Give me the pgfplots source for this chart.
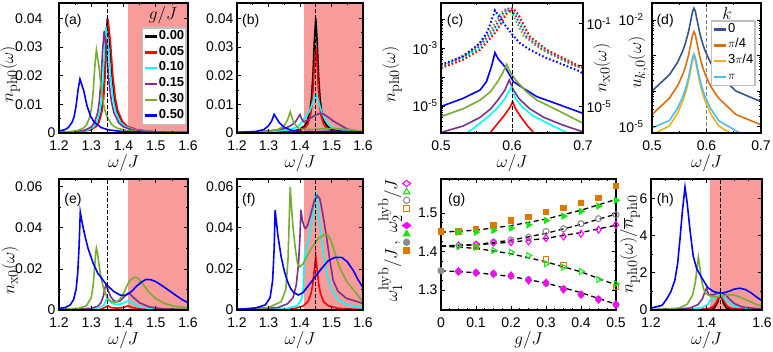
\documentclass[border=0pt]{standalone}
\usepackage[no-math]{fontspec}
\setmainfont{Liberation Sans}
\usepackage{pgfplots}
\pgfplotsset{compat=1.18}
\DeclareMathSizes{18}{18}{14}{10}

\definecolor{cpurple}{HTML}{7E2F8E}
\definecolor{cgreen}{HTML}{77AC30}
\definecolor{ccyan}{RGB}{0,255,255}
\definecolor{cblue}{RGB}{0,0,255}
\definecolor{cred}{RGB}{255,0,0}
\definecolor{shade}{RGB}{248,155,155}
\definecolor{kzero}{HTML}{34568B}
\definecolor{kpi4}{HTML}{DE6E0C}
\definecolor{kthree}{HTML}{EDB120}
\definecolor{kpi}{HTML}{4DBEEE}
\definecolor{gmag}{RGB}{255,0,255}
\definecolor{ggreen}{RGB}{20,230,20}
\definecolor{ggray}{RGB}{140,140,140}
\definecolor{gorange}{RGB}{222,120,0}

\pgfplotsset{
  panel/.style={
    scale only axis, anchor=south west, axis on top,
    axis line style={line width=1.1pt},
    tick style={black, line width=0.6pt},
    major tick length=4pt, minor tick length=2.2pt,
    tick label style={font=\fontsize{14}{14}\selectfont, inner ysep=1pt},
    xticklabel style={yshift=-6.5pt},
    label style={font=\fontsize{18}{18}\selectfont},
    /pgf/number format/assume math mode=true,
    scaled ticks=false,
    every axis plot/.append style={line width=1.6pt},
    xlabel={$\omega/J$},
    xlabel style={at={(axis description cs:0.5,-0.23)}, anchor=center},
  },
}
\tikzset{
  vline/.style={black, line width=0.9pt, dash pattern=on 3.5pt off 2.5pt},
  shadeplot/.style={fill=shade, draw=none},
  plab/.style={anchor=west, font=\fontsize{14}{14}\selectfont, inner sep=0pt},
  gdash/.style={black, line width=1.3pt, dash pattern=on 5pt off 3.5pt},
}

\begin{document}
\begin{tikzpicture}
\useasboundingbox (0,0) rectangle (773pt,352pt);

% ---------------- (a)
\begin{axis}[panel, at={(59pt,219pt)}, width=129pt, height=130pt,
  xmin=1.2, xmax=1.6, ymin=0, ymax=0.0453,
  xtick={1.2,1.3,1.4,1.5,1.6}, xticklabels={1.2,1.3,1.4,1.5,1.6},
  ytick={0,0.01,0.02,0.03,0.04},
  yticklabels={0,{0.01\hspace*{13pt}},{0.02\hspace*{13pt}},{0.03\hspace*{13pt}},{0.04\hspace*{13pt}}},
  minor x tick num=1, minor y tick num=1,
  ylabel={$n_{\mathrm{ph0}}(\omega)$},
  ylabel style={at={(axis description cs:-0.38,0.45)}, anchor=center},
  legend style={at={(axis description cs:0.992,0.815)}, anchor=north east,
    draw=gray!50, line width=1.5pt, fill=white,
    font=\fontsize{13}{13}\selectfont\bfseries, inner sep=1pt, row sep=0pt,
    nodes={inner sep=1pt, text height=9.5pt, text depth=4.3pt}},
  legend cell align=left,
  legend image code/.code={\draw[#1, line width=2.4pt] (0pt,0pt) -- (12pt,0pt);},
]
\addplot[shadeplot, forget plot] coordinates {(1.4142,1) (1.6,1)} \closedcycle;
\addplot[black] coordinates {(1.17,0.0001) (1.26,0.0004) (1.296,0.0011) (1.314,0.0024) (1.323,0.004) (1.332,0.008) (1.3365,0.0123) (1.341,0.02) (1.3455,0.032) (1.35,0.04) (1.357,0.032) (1.364,0.02) (1.371,0.0123) (1.378,0.008) (1.392,0.004) (1.406,0.0024) (1.434,0.0011) (1.49,0.0004) (1.63,0.0001)};
\addlegendentry{0.00}
\addplot[cred] coordinates {(1.172,0.0001) (1.262,0.0004) (1.298,0.0011) (1.316,0.0023) (1.325,0.004) (1.334,0.0079) (1.3385,0.0122) (1.343,0.0198) (1.3475,0.0316) (1.352,0.0395) (1.3595,0.0316) (1.367,0.0198) (1.3745,0.0122) (1.382,0.0079) (1.397,0.004) (1.412,0.0023) (1.442,0.0011) (1.502,0.0004) (1.652,0.0001)};
\addlegendentry{0.05}
\addplot[ccyan] coordinates {(1.16,0.0001) (1.251,0.00037) (1.289,0.001) (1.308,0.0022) (1.3175,0.0037) (1.327,0.0074) (1.3318,0.0114) (1.3365,0.0185) (1.3413,0.0296) (1.346,0.037) (1.3535,0.0296) (1.361,0.0185) (1.3685,0.0114) (1.376,0.0074) (1.391,0.0037) (1.406,0.0022) (1.436,0.001) (1.496,0.00037) (1.65,0.0001)};
\addlegendentry{0.10}
\addplot[cpurple] coordinates {(1.15,0.0001) (1.24,0.00035) (1.28,0.00096) (1.3,0.0021) (1.31,0.0036) (1.32,0.0071) (1.325,0.011) (1.33,0.0178) (1.335,0.0285) (1.34,0.0356) (1.3475,0.0285) (1.355,0.0178) (1.3625,0.011) (1.37,0.0071) (1.385,0.0036) (1.4,0.0021) (1.43,0.00096) (1.49,0.00035) (1.64,0.0001)};
\addlegendentry{0.15}
\addplot[cgreen] coordinates {(1.2,0.00025) (1.216,0.00029) (1.256,0.00078) (1.276,0.0017) (1.286,0.0029) (1.296,0.0058) (1.301,0.0089) (1.306,0.0145) (1.311,0.0231) (1.316,0.0289) (1.324,0.0231) (1.332,0.0145) (1.34,0.0089) (1.348,0.0058) (1.364,0.0029) (1.38,0.0017) (1.412,0.00078) (1.476,0.00029) (1.6,0.00008)};
\addlegendentry{0.30}
\addplot[cblue] coordinates {(1.2,0.0007) (1.217,0.0011) (1.229,0.0019) (1.241,0.0038) (1.247,0.0058) (1.253,0.0094) (1.259,0.015) (1.265,0.0188) (1.276,0.015) (1.287,0.0094) (1.298,0.0058) (1.309,0.0038) (1.331,0.0019) (1.353,0.0011) (1.397,0.00051) (1.485,0.00019) (1.6,0.0001)};
\addlegendentry{0.50}
\addplot[vline, forget plot] coordinates {(1.35,0) (1.35,1)};
\node[plab] at (axis description cs:0.04,0.86) {(a)};
\node[font=\fontsize{17}{17}\selectfont] at (axis description cs:0.806,0.905) {$g/J$};
\end{axis}

% ---------------- (b)
\begin{axis}[panel, at={(237pt,219pt)}, width=126pt, height=130pt,
  xmin=1.2, xmax=1.6, ymin=0, ymax=0.0453,
  xtick={1.2,1.3,1.4,1.5,1.6}, xticklabels={1.2,1.3,1.4,1.5,1.6},
  ytick={0,0.01,0.02,0.03,0.04}, yticklabels={0,0.01,0.02,0.03,0.04},
  minor x tick num=1, minor y tick num=1,
]
\addplot[shadeplot, forget plot] coordinates {(1.4142,1) (1.6,1)} \closedcycle;
\addplot[black] coordinates {(1.2,0.0001) (1.36,0.0004) (1.396,0.0011) (1.414,0.0024) (1.423,0.004) (1.432,0.008) (1.4365,0.0123) (1.441,0.02) (1.4455,0.032) (1.45,0.04) (1.4545,0.032) (1.459,0.02) (1.4635,0.0123) (1.468,0.008) (1.477,0.004) (1.486,0.0024) (1.504,0.0011) (1.54,0.0004) (1.6,0.0001)};
\addplot[cred] coordinates {(1.2,0.0001) (1.365,0.0003) (1.399,0.0008) (1.416,0.0018) (1.4245,0.003) (1.433,0.006) (1.4373,0.0092) (1.4415,0.015) (1.4458,0.024) (1.45,0.03) (1.4543,0.024) (1.4585,0.015) (1.4628,0.0092) (1.467,0.006) (1.4755,0.003) (1.484,0.0018) (1.501,0.0008) (1.535,0.0003) (1.6,0.0001)};
\addplot[ccyan] coordinates {(1.2,0.0002) (1.3,0.0005) (1.36,0.001) (1.39,0.002) (1.4,0.003) (1.41,0.0045) (1.415,0.0055) (1.42,0.0058) (1.43,0.0075) (1.44,0.0105) (1.447,0.0135) (1.45,0.0136) (1.455,0.0125) (1.46,0.0105) (1.47,0.007) (1.48,0.0045) (1.5,0.002) (1.55,0.0007) (1.6,0.0003)};
\addplot[cpurple] coordinates {(1.2,0.0002) (1.3,0.0007) (1.35,0.0015) (1.37,0.0025) (1.385,0.0038) (1.395,0.0055) (1.4,0.0064) (1.405,0.005) (1.412,0.0039) (1.42,0.0042) (1.435,0.0053) (1.45,0.0063) (1.465,0.0069) (1.475,0.0066) (1.49,0.0055) (1.505,0.0042) (1.527,0.0028) (1.55,0.0014) (1.566,0.0009) (1.6,0.0004)};
\addplot[cgreen] coordinates {(1.2,0.0002) (1.3,0.0006) (1.33,0.0012) (1.35,0.0025) (1.36,0.0045) (1.365,0.006) (1.369,0.0074) (1.375,0.0052) (1.38,0.0038) (1.39,0.0022) (1.4,0.0014) (1.42,0.0012) (1.45,0.0013) (1.5,0.0016) (1.55,0.0012) (1.6,0.0006)};
\addplot[cblue] coordinates {(1.2,0.0002) (1.26,0.0005) (1.285,0.0012) (1.3,0.0025) (1.31,0.0042) (1.318,0.0065) (1.325,0.0052) (1.335,0.0035) (1.35,0.002) (1.37,0.001) (1.4,0.0005) (1.45,0.0004) (1.5,0.0006) (1.55,0.0005) (1.6,0.0003)};
\addplot[vline, forget plot] coordinates {(1.45,0) (1.45,1)};
\node[plab] at (axis description cs:0.04,0.86) {(b)};
\end{axis}

% ---------------- (c) left axis
\begin{axis}[panel, at={(441pt,219pt)}, width=142pt, height=130pt,
  xmin=0.5, xmax=0.7, ymode=log, ymin=1.15e-6, ymax=0.037,
  xtick={0.5,0.6,0.7}, xticklabels={0.5,0.6,0.7}, minor x tick num=1,
  ytick={1e-6,1e-5,1e-4,1e-3,1e-2},
  yticklabels={,10\textsuperscript{-5},,10\textsuperscript{-3},},
  ytick pos=left,
  ylabel={$n_{\mathrm{ph0}}(\omega)$},
  ylabel style={at={(axis description cs:-0.345,0.45)}, anchor=center},
]
\addplot[cblue] coordinates {(0.5,9.55e-6) (0.531,1.82e-5) (0.555,3.55e-5) (0.564,6.92e-5) (0.571,2.29e-4) (0.574,4.47e-4) (0.576,7.08e-4) (0.58,4.47e-4) (0.59,2.29e-4) (0.602,6.92e-5) (0.62,3.55e-5) (0.635,2.09e-5) (0.66,1.26e-5) (0.7,5.5e-6)};
\addplot[cgreen] coordinates {(0.5,4.27e-6) (0.531,7.94e-6) (0.555,1.58e-5) (0.57,3.16e-5) (0.58,7.08e-5) (0.587,1.41e-4) (0.5925,2.75e-4) (0.598,1.41e-4) (0.605,7.94e-5) (0.62,3.16e-5) (0.635,1.58e-5) (0.66,7.94e-6) (0.7,2.51e-6)};
\addplot[cpurple] coordinates {(0.5,1.2e-6) (0.531,2.0e-6) (0.555,3.98e-6) (0.57,7.94e-6) (0.58,1.58e-5) (0.59,3.55e-5) (0.596,7.94e-5) (0.602,3.55e-5) (0.61,1.78e-5) (0.625,7.94e-6) (0.645,3.98e-6) (0.67,2.24e-6) (0.7,1.26e-6)};
\addplot[ccyan] coordinates {(0.53,8.9e-7) (0.537,1.15e-6) (0.555,2.51e-6) (0.57,5.01e-6) (0.58,8.91e-6) (0.59,1.78e-5) (0.599,4.47e-5) (0.605,1.78e-5) (0.615,8.91e-6) (0.63,4.47e-6) (0.65,2.51e-6) (0.678,1.15e-6) (0.69,8.9e-7)};
\addplot[cred] coordinates {(0.56,7.9e-7) (0.569,1.15e-6) (0.58,2.51e-6) (0.59,5.01e-6) (0.597,8.91e-6) (0.601,1.41e-5) (0.605,7.94e-6) (0.613,3.98e-6) (0.622,2.0e-6) (0.631,1.15e-6) (0.64,7.9e-7)};
\addplot[vline, forget plot] coordinates {(0.6,1e-7) (0.6,1)};
\node[plab] at (axis description cs:0.04,0.86) {(c)};
\end{axis}

% ---------------- (c) right axis, n_x0
\begin{axis}[panel, at={(441pt,219pt)}, width=142pt, height=130pt,
  xmin=0.5, xmax=0.7, ymode=log, ymin=5.4e-7, ymax=1,
  hide x axis, xlabel={},
  ytick={1e-5,1e-3,1e-1},
  yticklabels={10\textsuperscript{-5},,10\textsuperscript{-1}},
  ytick pos=right, yticklabel pos=right,
  ylabel={$n_{\mathrm{x0}}(\omega)$},
  ylabel style={at={(axis description cs:1.134,0.5)}, anchor=center},
  every axis plot/.append style={line width=2pt, dash pattern=on 1.6pt off 2.2pt},
]
\addplot[cgreen] coordinates {(0.5,8.2e-4) (0.5225,2.05e-3) (0.5465,6.2e-3) (0.5695,4.6e-2) (0.5845,0.34) (0.5925,0.56) (0.6005,0.29) (0.6165,2.6e-2) (0.6405,5.9e-3) (0.6875,9.3e-4) (0.7,7.8e-4)};
\addplot[cpurple] coordinates {(0.5,7.8e-4) (0.526,1.95e-3) (0.55,5.9e-3) (0.573,4.5e-2) (0.588,0.34) (0.596,0.56) (0.604,0.29) (0.62,2.5e-2) (0.644,5.7e-3) (0.691,9.0e-4) (0.7,7.6e-4)};
\addplot[ccyan] coordinates {(0.5,7.5e-4) (0.529,1.9e-3) (0.553,5.7e-3) (0.576,4.4e-2) (0.591,0.34) (0.599,0.57) (0.607,0.29) (0.623,2.5e-2) (0.647,5.6e-3) (0.694,8.9e-4) (0.7,7.4e-4)};
\addplot[cred] coordinates {(0.5,7.24e-4) (0.531,1.82e-3) (0.555,5.5e-3) (0.578,4.27e-2) (0.593,0.331) (0.601,0.562) (0.609,0.282) (0.625,2.45e-2) (0.649,5.5e-3) (0.696,8.7e-4) (0.7,7.24e-4)};
\addplot[cblue] coordinates {(0.5,1.05e-3) (0.531,2.63e-3) (0.555,1.17e-2) (0.565,3.98e-2) (0.569,8.91e-2) (0.576,0.437) (0.588,0.107) (0.6,3.16e-2) (0.611,1.17e-2) (0.625,5.62e-3) (0.649,2.19e-3) (0.696,5.01e-4) (0.7,3.8e-4)};
\end{axis}

% ---------------- (d)
\begin{axis}[panel, at={(652pt,219pt)}, width=109pt, height=130pt,
  xmin=0.5, xmax=0.7, ymode=log, ymin=6.6e-6, ymax=0.030,
  xtick={0.5,0.6,0.7}, xticklabels={0.5,0.6,0.7}, minor x tick num=1,
  ytick={1e-5,1e-4,1e-3,1e-2},
  yticklabels={10\textsuperscript{-5},,,10\textsuperscript{-2}},
  yticklabel style={xshift=-5pt},
  ylabel={$u_{k,0}(\omega)$},
  ylabel style={at={(axis description cs:-0.128,0.54)}, anchor=center},
  legend style={at={(axis description cs:0.954,0.869)}, anchor=north east,
    draw=gray!50, line width=1.5pt, fill=white,
    font=\fontsize{13}{13}\selectfont, inner sep=1pt, row sep=0pt,
    nodes={inner sep=1pt, text height=9.5pt, text depth=4.2pt}},
  legend cell align=left,
  legend image code/.code={\draw[#1, line width=2.4pt] (0pt,0pt) -- (12pt,0pt);},
]
\addplot[gray, line width=0.9pt, dash pattern=on 3.5pt off 2.5pt, forget plot] coordinates {(0.6,1e-7) (0.6,1)};
\addplot[kzero] coordinates {(0.5,1.0e-4) (0.532,2.88e-4) (0.547,6.46e-4) (0.557,1.41e-3) (0.562,2.40e-3) (0.567,4.68e-3) (0.572,1.12e-2) (0.5745,1.74e-2) (0.577,2.14e-2) (0.5795,1.74e-2) (0.582,1.12e-2) (0.587,4.68e-3) (0.592,2.40e-3) (0.597,1.41e-3) (0.607,6.46e-4) (0.622,2.88e-4) (0.654,1.0e-4) (0.7,5.01e-5)};
\addlegendentry{0}
\addplot[kpi4] coordinates {(0.5,2.19e-5) (0.532,6.31e-5) (0.547,1.41e-4) (0.557,3.09e-4) (0.562,5.25e-4) (0.567,1.02e-3) (0.572,2.45e-3) (0.5745,3.80e-3) (0.577,4.68e-3) (0.5795,3.80e-3) (0.582,2.45e-3) (0.587,1.02e-3) (0.592,5.25e-4) (0.597,3.09e-4) (0.607,1.41e-4) (0.622,6.31e-5) (0.654,2.19e-5) (0.7,1.12e-5)};
\addlegendentry{$\pi$/4}
\addplot[kthree] coordinates {(0.5,5.62e-6) (0.507,6.61e-6) (0.532,1.05e-5) (0.547,2.40e-5) (0.557,5.50e-5) (0.562,9.55e-5) (0.567,1.91e-4) (0.572,4.68e-4) (0.5745,7.41e-4) (0.577,9.33e-4) (0.5795,7.41e-4) (0.582,4.68e-4) (0.587,1.91e-4) (0.592,9.55e-5) (0.597,5.50e-5) (0.607,2.40e-5) (0.622,1.05e-5) (0.643,6.61e-6) (0.66,4.0e-6)};
\addlegendentry{3$\pi$/4}
\addplot[kpi] coordinates {(0.5,9.12e-6) (0.532,1.48e-5) (0.547,3.31e-5) (0.557,7.24e-5) (0.562,1.23e-4) (0.567,2.40e-4) (0.572,5.75e-4) (0.5745,8.91e-4) (0.577,1.10e-3) (0.5795,8.91e-4) (0.582,5.75e-4) (0.587,2.40e-4) (0.592,1.23e-4) (0.597,7.24e-5) (0.607,3.31e-5) (0.622,1.48e-5) (0.661,6.61e-6) (0.68,3.98e-6)};
\addlegendentry{$\pi$}
\node[plab] at (axis description cs:0.04,0.86) {(d)};
\node[font=\fontsize{18}{18}\selectfont] at (axis description cs:0.688,0.923) {$k$};
\end{axis}

% ---------------- (e)
\begin{axis}[panel, at={(59pt,42pt)}, width=129pt, height=131pt,
  xmin=1.2, xmax=1.6, ymin=0, ymax=0.0637,
  xtick={1.2,1.3,1.4,1.5,1.6}, xticklabels={1.2,1.3,1.4,1.5,1.6},
  ytick={0,0.02,0.04,0.06},
  yticklabels={0,{0.02\hspace*{13pt}},{0.04\hspace*{13pt}},{0.06\hspace*{13pt}}},
  minor x tick num=1, minor y tick num=1,
  ylabel={$n_{\mathrm{x0}}(\omega)$},
  ylabel style={at={(axis description cs:-0.38,0.30)}, anchor=center},
]
\addplot[shadeplot, forget plot] coordinates {(1.4142,1) (1.6,1)} \closedcycle;
\addplot[cred] coordinates {(1.2,0) (1.33,0.0003) (1.345,0.0015) (1.352,0.002) (1.36,0.0012) (1.38,0.0009) (1.4,0.0012) (1.414,0.002) (1.425,0.0013) (1.45,0.0004) (1.6,0)};
\addplot[ccyan] coordinates {(1.2,0.0001) (1.32,0.0006) (1.34,0.0025) (1.348,0.0057) (1.355,0.0045) (1.365,0.0032) (1.38,0.0027) (1.395,0.003) (1.41,0.0042) (1.418,0.0045) (1.43,0.0032) (1.45,0.0015) (1.5,0.0004) (1.6,0.0001)};
\addplot[cpurple] coordinates {(1.2,0.0002) (1.3,0.0008) (1.32,0.0018) (1.33,0.0035) (1.338,0.007) (1.343,0.011) (1.346,0.012) (1.35,0.0105) (1.36,0.0065) (1.37,0.0045) (1.38,0.004) (1.39,0.0045) (1.4,0.006) (1.41,0.0078) (1.415,0.0082) (1.42,0.0078) (1.43,0.0062) (1.45,0.0035) (1.48,0.0015) (1.52,0.0006) (1.6,0.0002)};
\addplot[cgreen] coordinates {(1.2,0.0003) (1.26,0.0008) (1.285,0.002) (1.3,0.006) (1.306,0.012) (1.31,0.02) (1.314,0.028) (1.316,0.03) (1.32,0.027) (1.325,0.021) (1.33,0.016) (1.34,0.0095) (1.35,0.006) (1.36,0.0043) (1.37,0.0038) (1.38,0.004) (1.39,0.0055) (1.4,0.008) (1.41,0.0115) (1.42,0.0145) (1.435,0.016) (1.445,0.0155) (1.46,0.0125) (1.48,0.0085) (1.5,0.0055) (1.53,0.003) (1.56,0.0018) (1.6,0.001)};
\addplot[cblue] coordinates {(1.2,0.0008) (1.22,0.0012) (1.235,0.0025) (1.245,0.005) (1.253,0.01) (1.258,0.018) (1.262,0.03) (1.266,0.0475) (1.27,0.044) (1.275,0.04) (1.281,0.0357) (1.29,0.03) (1.306,0.0227) (1.32,0.018) (1.335,0.0148) (1.348,0.0122) (1.37,0.009) (1.389,0.0073) (1.4,0.007) (1.41,0.0074) (1.425,0.009) (1.44,0.0115) (1.455,0.0135) (1.47,0.0149) (1.485,0.0147) (1.5,0.0138) (1.52,0.0118) (1.55,0.0085) (1.58,0.0052) (1.6,0.0035)};
\addplot[vline, forget plot] coordinates {(1.35,0) (1.35,1)};
\node[plab] at (axis description cs:0.04,0.84) {(e)};
\end{axis}

% ---------------- (f)
\begin{axis}[panel, at={(237pt,42pt)}, width=126pt, height=131pt,
  xmin=1.2, xmax=1.6, ymin=0, ymax=0.0637,
  xtick={1.2,1.3,1.4,1.5,1.6}, xticklabels={1.2,1.3,1.4,1.5,1.6},
  ytick={0,0.02,0.04,0.06}, yticklabels={0,0.02,0.04,0.06},
  minor x tick num=1, minor y tick num=1,
]
\addplot[shadeplot, forget plot] coordinates {(1.4142,1) (1.6,1)} \closedcycle;
\addplot[cred] coordinates {(1.2,0) (1.38,0.0006) (1.41,0.002) (1.425,0.004) (1.435,0.008) (1.44,0.012) (1.445,0.019) (1.45,0.0263) (1.455,0.019) (1.46,0.012) (1.465,0.008) (1.475,0.004) (1.49,0.002) (1.52,0.0008) (1.6,0.0002)};
\addplot[ccyan] coordinates {(1.2,0.0001) (1.36,0.0008) (1.39,0.002) (1.405,0.005) (1.41,0.01) (1.414,0.025) (1.42,0.03) (1.43,0.036) (1.44,0.046) (1.447,0.055) (1.45,0.0568) (1.455,0.054) (1.46,0.046) (1.47,0.032) (1.48,0.022) (1.49,0.015) (1.5,0.01) (1.52,0.005) (1.55,0.0025) (1.6,0.001)};
\addplot[cpurple] coordinates {(1.2,0.0002) (1.33,0.0012) (1.36,0.003) (1.378,0.006) (1.388,0.012) (1.395,0.022) (1.4,0.036) (1.403,0.0487) (1.407,0.044) (1.413,0.0405) (1.418,0.0397) (1.425,0.0415) (1.435,0.047) (1.445,0.053) (1.455,0.0556) (1.463,0.054) (1.472,0.047) (1.484,0.0357) (1.495,0.024) (1.505,0.0146) (1.52,0.0092) (1.547,0.0057) (1.6,0.0032)};
\addplot[cgreen] coordinates {(1.2,0.0003) (1.3,0.0012) (1.34,0.004) (1.355,0.01) (1.362,0.025) (1.366,0.045) (1.369,0.0597) (1.373,0.05) (1.378,0.04) (1.385,0.03) (1.392,0.0225) (1.4,0.021) (1.41,0.0225) (1.42,0.0255) (1.44,0.031) (1.46,0.035) (1.48,0.0368) (1.49,0.0362) (1.5,0.033) (1.51,0.028) (1.526,0.0205) (1.55,0.0135) (1.579,0.008) (1.6,0.004)};
\addplot[cblue] coordinates {(1.2,0.0003) (1.26,0.001) (1.29,0.0025) (1.305,0.006) (1.313,0.014) (1.318,0.03) (1.321,0.0487) (1.325,0.043) (1.33,0.036) (1.34,0.026) (1.35,0.019) (1.36,0.014) (1.37,0.0105) (1.38,0.0085) (1.395,0.0073) (1.41,0.0085) (1.43,0.0125) (1.45,0.0165) (1.47,0.0205) (1.49,0.024) (1.51,0.0255) (1.532,0.0256) (1.55,0.0235) (1.57,0.019) (1.585,0.0145) (1.6,0.011)};
\addplot[vline, forget plot] coordinates {(1.45,0) (1.45,1)};
\node[plab] at (axis description cs:0.04,0.84) {(f)};
\end{axis}

% ---------------- (g)
\begin{axis}[panel, at={(441pt,42pt)}, width=175pt, height=131pt,
  xmin=0, xmax=0.5, ymin=1.248, ymax=1.588,
  xtick={0,0.1,0.2,0.3,0.4,0.5}, xticklabels={0,0.1,0.2,0.3,0.4,0.5},
  ytick={1.3,1.4,1.5}, yticklabels={1.3,1.4,1.5},
  minor x tick num=3, minor y tick num=3,
  xlabel={$g/J$},
  ylabel={$\omega_1^{\mathrm{hyb}}/J\,,\;\omega_2^{\mathrm{hyb}}/J$},
  ylabel style={at={(axis description cs:-0.29,0.53)}, anchor=center},
  every axis plot/.append style={line width=1.1pt},
  legend style={at={(axis description cs:-0.206,0.999)}, anchor=north,
    draw=none, fill=none, inner sep=0pt, row sep=0pt,
    nodes={inner sep=0pt}},
]
\addplot[gdash, forget plot] coordinates {(0,1.45) (0.1,1.455) (0.2,1.467) (0.3,1.484) (0.4,1.507) (0.5,1.535)};
\addplot[gdash, forget plot] coordinates {(0,1.414) (0.1,1.418) (0.2,1.429) (0.3,1.447) (0.4,1.47) (0.5,1.497)};
\addplot[gdash, forget plot] coordinates {(0,1.414) (0.1,1.417) (0.2,1.424) (0.3,1.434) (0.4,1.449) (0.5,1.468)};
\addplot[gdash, forget plot] coordinates {(0,1.414) (0.1,1.408) (0.2,1.394) (0.3,1.373) (0.4,1.347) (0.5,1.313)};
\addplot[gdash, forget plot] coordinates {(0,1.35) (0.1,1.345) (0.2,1.335) (0.3,1.318) (0.4,1.293) (0.5,1.263)};
% filled: omega_1
\addplot[only marks, ggray, mark=*, mark size=3pt, forget plot] coordinates {(0,1.35) (0.05,1.348) (0.1,1.345) (0.15,1.342) (0.2,1.336) (0.25,1.327) (0.3,1.317) (0.35,1.303) (0.4,1.289) (0.45,1.276) (0.5,1.262)};
\addplot[only marks, gmag, mark=diamond*, mark size=3.5pt, forget plot] coordinates {(0.05,1.348) (0.1,1.3447) (0.15,1.342) (0.2,1.3377) (0.25,1.3247) (0.3,1.3187) (0.35,1.3013) (0.4,1.2875) (0.45,1.2753) (0.5,1.2623)};
\addplot[only marks, gorange, mark=square*, mark size=2.6pt, forget plot] coordinates {(0,1.452) (0.05,1.452) (0.1,1.459) (0.15,1.4675) (0.2,1.4805) (0.25,1.489) (0.3,1.502) (0.35,1.5135) (0.4,1.5265) (0.45,1.5385) (0.5,1.57)};
\addplot[only marks, ggreen, mark=triangle*, mark size=3.4pt, mark options={rotate=-90}, forget plot] coordinates {(0.05,1.45) (0.1,1.45) (0.15,1.4545) (0.2,1.4605) (0.25,1.469) (0.3,1.4805) (0.35,1.4917) (0.4,1.504) (0.45,1.5177) (0.5,1.5325)};
% open: omega_2
\addplot[only marks, ggray, mark=o, mark size=3pt, forget plot] coordinates {(0.1,1.418) (0.15,1.424) (0.2,1.43) (0.25,1.437) (0.3,1.452) (0.35,1.459) (0.4,1.472) (0.45,1.485) (0.5,1.495)};
\addplot[only marks, gmag, mark=diamond, mark size=3.5pt, forget plot] coordinates {(0.05,1.4156) (0.1,1.4174) (0.15,1.4226) (0.2,1.424) (0.25,1.426) (0.3,1.4345) (0.35,1.439) (0.4,1.446) (0.45,1.4565) (0.5,1.469)};
\addplot[only marks, gorange, mark=square, mark size=2.6pt, forget plot] coordinates {(0.1,1.412) (0.3,1.379) (0.35,1.3655) (0.5,1.307)};
\addplot[only marks, ggreen, mark=triangle, mark size=3.4pt, mark options={rotate=-90}, forget plot] coordinates {(0.05,1.413) (0.1,1.411) (0.15,1.4026) (0.2,1.398) (0.25,1.3896) (0.3,1.368) (0.35,1.359) (0.4,1.348) (0.45,1.327) (0.5,1.316)};
% marker key beside the y label
\addlegendimage{only marks, gmag, mark=diamond, mark size=3.8pt, mark options={xscale=1.45, yscale=0.8, line width=1.1pt}}
\addlegendentry{\rule[-6.9pt]{0pt}{13.8pt}}
\addlegendimage{only marks, ggreen, mark=triangle, mark size=3.6pt, mark options={line width=1.1pt}}
\addlegendentry{\rule[-6.9pt]{0pt}{13.8pt}}
\addlegendimage{only marks, ggray, mark=o, mark size=3.1pt, mark options={line width=1.1pt}}
\addlegendentry{\rule[-6.9pt]{0pt}{13.8pt}}
\addlegendimage{only marks, gorange, mark=square, mark size=2.9pt, mark options={line width=1.1pt}}
\addlegendentry{\rule[-6.9pt]{0pt}{13.8pt}}
\addlegendimage{empty legend}
\addlegendentry{\rule[-6.9pt]{0pt}{13.8pt}}
\addlegendimage{only marks, gmag, mark=diamond*, mark size=3.8pt, mark options={xscale=1.45, yscale=0.8}}
\addlegendentry{\rule[-6.9pt]{0pt}{13.8pt}}
\addlegendimage{only marks, ggreen, mark=triangle*, mark size=3.6pt}
\addlegendentry{\rule[-6.9pt]{0pt}{13.8pt}}
\addlegendimage{only marks, ggray, mark=*, mark size=3.1pt}
\addlegendentry{\rule[-6.9pt]{0pt}{13.8pt}}
\addlegendimage{only marks, gorange, mark=square*, mark size=2.9pt}
\addlegendentry{\rule[-6.9pt]{0pt}{13.8pt}}
\node[plab] at (axis description cs:0.04,0.84) {(g)};
\end{axis}

% ---------------- (h)
\begin{axis}[panel, at={(651pt,42pt)}, width=111pt, height=131pt,
  xmin=1.2, xmax=1.6, ymin=0, ymax=7.04,
  xtick={1.2,1.4,1.6}, xticklabels={1.2,1.4,1.6},
  ytick={0,2,4,6}, yticklabels={0,2,4,6},
  minor x tick num=3, minor y tick num=1,
  ylabel={$n_{\mathrm{ph0}}(\omega)/\overline{n}_{\mathrm{ph0}}$},
  ylabel style={at={(axis description cs:-0.19,0.5)}, anchor=center},
]
\addplot[shadeplot, forget plot] coordinates {(1.4142,100) (1.6,100)} \closedcycle;
\addplot[black] coordinates {(1.2,0) (1.42,0.05) (1.43,0.15) (1.44,0.4) (1.445,0.7) (1.45,0.95) (1.455,0.7) (1.46,0.4) (1.47,0.15) (1.48,0.05) (1.6,0)};
\addplot[cred] coordinates {(1.2,0) (1.41,0.08) (1.425,0.2) (1.435,0.4) (1.445,0.7) (1.45,0.85) (1.455,0.7) (1.465,0.4) (1.475,0.2) (1.49,0.08) (1.6,0.01)};
\addplot[ccyan] coordinates {(1.2,0) (1.38,0.1) (1.405,0.3) (1.414,0.55) (1.425,0.6) (1.44,0.75) (1.45,0.88) (1.46,0.7) (1.475,0.45) (1.5,0.22) (1.55,0.08) (1.6,0.03)};
\addplot[cpurple] coordinates {(1.2,0.01) (1.34,0.1) (1.37,0.3) (1.385,0.6) (1.395,1.0) (1.4,1.17) (1.405,0.95) (1.41,0.8) (1.425,0.82) (1.44,0.9) (1.455,0.92) (1.47,0.8) (1.485,0.55) (1.5,0.35) (1.53,0.15) (1.6,0.05)};
\addplot[cgreen] coordinates {(1.2,0.02) (1.3,0.1) (1.33,0.3) (1.35,0.8) (1.36,1.5) (1.366,2.3) (1.3705,2.83) (1.376,2.3) (1.382,1.6) (1.39,1.1) (1.4,0.85) (1.42,0.72) (1.44,0.7) (1.46,0.75) (1.48,0.82) (1.5,0.8) (1.52,0.7) (1.55,0.5) (1.58,0.3) (1.6,0.2)};
\addplot[cblue] coordinates {(1.2,0.1) (1.24,0.25) (1.257,0.6) (1.272,1.0) (1.286,1.6) (1.296,2.5) (1.305,3.9) (1.313,5.3) (1.3225,6.6) (1.33,5.8) (1.3405,4.3) (1.352,2.9) (1.365,2.2) (1.388,1.6) (1.405,1.2) (1.424,1.0) (1.44,0.93) (1.46,0.92) (1.48,1.0) (1.5,1.12) (1.52,1.17) (1.54,1.1) (1.56,0.93) (1.58,0.7) (1.6,0.5)};
\addplot[vline, forget plot] coordinates {(1.45,0) (1.45,100)};
\node[plab] at (axis description cs:0.05,0.84) {(h)};
\end{axis}
\end{tikzpicture}
\end{document}
